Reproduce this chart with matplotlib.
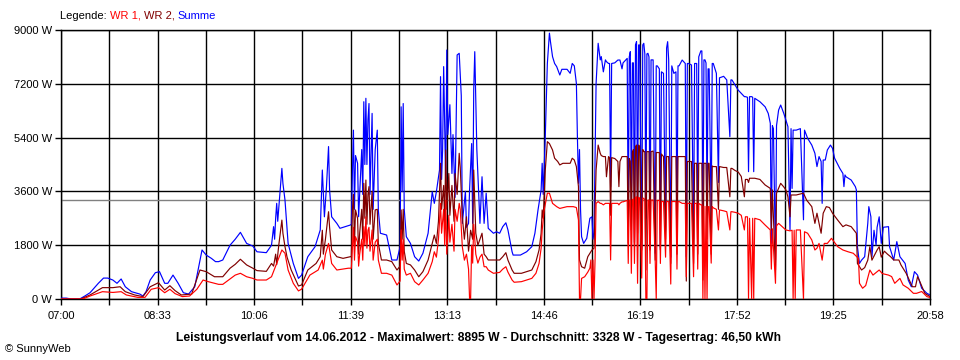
import matplotlib
matplotlib.use("Agg")
import matplotlib.pyplot as plt

# ---------------- data (minutes after 07:00, watts) ----------------
summe_t = [0, 5, 10, 18, 23, 28, 36, 41, 45, 50, 54, 58, 62, 68, 76, 79, 82, 86, 91, 95,
           100, 103, 108, 113, 118, 123, 129, 136, 140, 145, 149, 152, 156, 163, 168, 173, 179,
           185, 189, 198, 203, 205, 206, 207, 208, 209, 211, 213, 214, 216, 219, 224, 229, 232,
           238, 245, 250, 252, 254, 256, 258, 259, 261, 266, 269, 274, 279, 280, 281, 282, 283,
           284, 286, 287, 288, 290, 291, 292, 293, 294, 295, 296, 297, 298, 300, 301, 303, 305,
           306, 308, 314, 319, 324, 327, 328, 329, 330, 331, 333, 337, 341, 345, 349, 354, 358,
           360, 362, 365, 366, 367, 368, 369, 371, 372, 373, 375, 377, 378, 380, 382, 384, 386,
           387, 390, 391, 393, 394, 396, 397, 398, 399, 401, 404, 406, 408, 410, 412, 417, 420,
           423, 426, 429, 431, 435, 436, 443, 449, 454, 457, 460, 463, 464, 465, 467, 469, 471,
           472, 474, 476, 478, 481, 483, 488, 491, 493, 495, 497, 498, 499, 500, 501, 502, 504,
           507, 510, 512, 513, 514,
           516, 518, 520, 521, 523, 525, 526, 528, 529, 530, 531, 534, 537, 538, 539, 541, 542,
           546, 547, 548, 549, 550, 551, 552, 553, 554, 555, 556, 557, 558, 560, 561, 562, 563,
           564, 565, 566, 567, 568, 569, 571, 573, 574, 575, 577, 578, 579, 581, 583, 584, 585,
           586, 588, 589, 591, 593, 594, 595, 596, 599, 602, 603, 604, 605, 608, 610, 611, 613,
           614, 615, 617, 618, 619, 620, 621, 622, 623, 624, 625, 627, 628, 629, 632, 634, 635,
           639, 642, 645, 646, 647, 650, 653, 656, 659, 660, 662, 663, 664, 666, 667, 668, 669,
           674, 679, 682, 684, 685, 686, 687, 689, 690, 692, 694, 697, 699, 701, 703, 704, 705,
           706, 709, 713, 716, 717, 720, 724, 727, 729, 731, 733, 734, 735, 737, 739, 742, 744,
           746, 751, 754, 755, 756, 757, 762, 766, 767, 768, 770, 772, 775, 778, 779, 781, 782,
           784, 786, 787, 789, 791, 793, 798, 799, 803, 806, 809, 814, 817, 820, 823, 826, 830,
           835, 838]
summe_w = [30, 30, 0, 0, 100, 210, 525, 700, 700, 635, 525, 670, 410, 245, 165, 100, 245, 635, 880, 915,
           525, 525, 800, 525, 210, 165, 410, 1640, 1470, 1360, 1250, 1250, 1305, 1800, 2000, 2230, 1860,
           1770, 1580, 1550, 1800, 2420, 2000, 2700, 3200, 2600, 3500, 4370, 3870, 3310, 1860, 1190, 690, 800,
           1415, 1750, 2310, 4315, 2750, 3760, 5100, 3650, 2750, 2530, 2365, 2420, 2475, 2500, 4200, 5650, 3000,
           4800, 4540, 2750, 3500, 5000, 3500, 6600, 4500, 6715, 4500, 6000, 6540, 3500, 6210, 3000, 5000, 5650,
           2980, 2200, 2140, 1305, 1305, 1750, 6430, 3590, 6540, 3000, 2085, 1860, 1415, 1270, 1530, 2200, 3590,
           3200, 3590, 4315, 7440, 4000, 5000, 7775, 3800, 8330, 5500, 6500, 4200, 5500, 3400, 8165, 8220, 6800,
           2530, 3600, 2400, 2530, 3650, 5200, 2530, 7000, 8275, 5000, 2530, 4090, 2530, 3540, 2365, 2200, 2250,
           2200, 2420, 2550, 2310, 1580, 1470, 1470, 1580, 1750, 2200, 2980, 3650, 4540, 3500, 5430, 7880, 8895,
           8610, 8110, 7880, 7775, 7495, 7685, 7685, 7550, 7880, 7800, 7210, 5400, 3870, 5000, 3000, 2085, 1860,
           2030, 2700, 2750, 2000, 2200,
           7210, 8555, 8000, 8110, 7600, 8000, 7940, 7880, 7880, 3760, 7880, 7900, 7995, 7995, 7995, 7700, 7900,
           8050, 2310, 8100, 8275, 3000, 7900, 7900, 1900, 8500, 8610, 2700, 8500, 8500, 1700, 8500, 8555, 8200,
           2700, 8200, 8220, 8100, 1700, 8000, 8000, 1530, 7800, 7800, 7700, 1700, 7600, 7550, 2300, 8400, 8610,
           8000, 1400, 7800, 7550, 7600, 2300, 7800, 7800, 7995, 7880, 1415, 7880, 7880, 7830, 2000, 7880, 7880,
           2700, 8100, 8300, 8300, 2000, 8000, 8000, 7900, 3000, 7700, 7700, 2700, 7880, 7880, 7550, 3900, 7400,
           7450, 7330, 5430, 7330, 7330, 7160, 6990, 6880, 6770, 6770, 6750, 4260, 6770, 6770, 6750, 4260, 6715,
           6600, 6430, 6210, 5880, 1860, 5800, 5700, 1305, 5800, 6320, 6490, 6210, 5990, 5765, 2310, 5700, 3700,
           5650, 5650, 5700, 2650, 5650, 5375, 5150, 4875, 4430, 4765, 4600, 3200, 4650, 4650, 4985, 5150, 5040,
           4710, 4370, 4200, 3760, 4150, 4090, 3980, 3760, 3650, 1750, 1190, 1300, 1415, 2530, 3090, 2750, 1415,
           2300, 1800, 2400, 2750, 1860, 2400, 2420, 1750, 1305, 1920, 1415, 1190, 635, 410, 915, 800, 360,
           190, 135]

wr2_t = [0, 19, 28, 40, 50, 57, 62, 71, 79, 86, 94, 100, 105, 110, 116, 126, 134, 140, 148, 156,
         163, 168, 173, 179, 185, 189, 198, 203, 205, 207, 208, 210, 211, 213, 214, 216, 218, 222,
         229, 232, 238, 246, 250, 252, 253, 255, 258, 259, 261, 266, 272, 279, 280, 281, 282, 283,
         284, 286, 287, 288, 290, 291, 292, 293, 294, 295, 296, 297, 298, 300, 301, 303, 305, 306,
         309, 314, 319, 324, 327, 328, 329, 330, 331, 333, 337, 341, 345, 349, 354, 358, 360, 362,
         364, 366, 367, 369, 370, 371, 372, 374, 375, 377, 379, 380, 382, 384, 385, 387, 389, 391,
         393, 395, 397, 398, 400, 402, 404, 406, 408, 410, 412, 417, 423, 426, 429, 431, 435, 437,
         444, 454, 458, 461, 463, 464, 465, 467, 469, 471, 474, 476, 479, 481, 484, 491, 493, 495,
         497, 499, 500, 502, 505, 508, 512, 514,
         516, 518, 520, 521, 523, 525, 526, 528, 529, 530, 531, 534, 537, 538, 539, 541, 542,
         546, 547, 548, 549, 550, 551, 552, 553, 554, 555, 556, 557, 558, 560, 561, 562, 563,
         564, 565, 566, 567, 568, 569, 571, 573, 574, 575, 577, 578, 579, 581, 583, 584, 585,
         586, 588, 589, 591, 593, 594, 595, 596, 599, 602, 603, 604, 605, 608, 610, 611, 613,
         614, 615, 617, 618, 619, 620, 621, 622, 623, 624, 625, 627, 628, 629, 632, 634, 635,
         639, 642, 645, 646, 647, 650, 653, 656, 659, 660, 662, 663, 664, 666, 667, 668, 669,
         674, 679, 684, 685, 686, 689, 690, 694, 697, 699, 701, 703, 704, 709, 716, 719, 724,
         727, 729, 731, 733, 735, 738, 741, 744, 749, 754, 757, 762, 767, 768, 772, 775, 778,
         780, 782, 785, 787, 789, 791, 794, 797, 800, 803, 808, 810, 815, 818, 821, 824, 826,
         828, 833, 838]
wr2_w = [0, 0, 135, 380, 380, 410, 245, 135, 80, 410, 545, 300, 445, 280, 135, 165, 970, 915, 745, 745,
         1030, 1160, 1330, 1140, 1030, 950, 925, 1190, 1100, 1500, 1150, 1800, 2085, 2640, 2200, 1750, 1400, 970,
         435, 470, 970, 1190, 1415, 2300, 1500, 2000, 2920, 2400, 1640, 1415, 1360, 1415, 1415, 2980, 3500, 1800,
         2980, 2700, 1500, 2200, 3000, 2000, 3870, 2700, 3980, 2500, 3500, 3760, 2500, 3600, 2000, 2980, 3000, 1860,
         1305, 1305, 1250, 970, 1100, 2980, 2000, 3000, 1600, 1190, 1140, 970, 745, 915, 1305, 1860, 2140, 1860,
         2600, 4540, 3000, 3800, 2500, 4985, 3000, 4200, 2800, 3800, 2600, 4200, 3500, 4875, 4400, 2750, 2000, 2750,
         1600, 2300, 2000, 4315, 2200, 1800, 2000, 2200, 1500, 1415, 1305, 1305, 1305, 1415, 1550, 1300, 970, 860,
         860, 970, 1250, 1640, 2200, 2980, 2700, 4315, 5265, 5200, 4985, 4710, 4600, 4485, 4540, 4540, 4710, 4650,
         4430, 3760, 1305, 1080, 1030, 1415, 1640, 1700,
         4315, 5150, 4875, 4800, 4765, 4765, 4090, 4765, 4730, 2800, 4730, 4700, 4600, 3760, 4600, 4765, 4765,
         4765, 1860, 4700, 4600, 2300, 4900, 5000, 1860, 5100, 5150, 2200, 5150, 5100, 1640, 5000, 4930, 4930,
         970, 4930, 4930, 4930, 1640, 4930, 4950, 1300, 4900, 4900, 4900, 1640, 4850, 4765, 2000, 4765, 4765,
         4765, 1190, 4765, 4765, 4765, 1500, 4765, 4765, 4765, 4765, 600, 4600, 4600, 4600, 1190, 4540, 4540,
         1500, 4540, 4540, 4540, 635, 4540, 4540, 4540, 2000, 4540, 4540, 1500, 4450, 4430, 4430, 3000, 4430,
         4400, 4400, 3420, 4370, 4370, 4300, 4250, 4100, 3420, 4000, 4000, 3900, 4040, 4040, 4040, 4040, 4040,
         4000, 3815, 3700, 2310, 3650, 970, 3540, 3870, 3750, 3650, 3420, 2750, 3480, 3480, 3540, 3310, 3090,
         2530, 2870, 2530, 2200, 2870, 3090, 3060, 2870, 2640, 2420, 2480, 2420, 2200, 1190, 970, 1050, 1300,
         1750, 1300, 1500, 1640, 1750, 1400, 1600, 1500, 1415, 1305, 1305, 1140, 860, 635, 410, 410, 745,
         600, 190, 80]

wr1_t = [0, 21, 28, 40, 50, 58, 63, 74, 81, 87, 94, 100, 105, 110, 117, 124, 131, 137, 142, 152,
         156, 168, 173, 179, 185, 189, 198, 203, 208, 213, 216, 219, 224, 229, 232, 240, 248, 252,
         253, 255, 258, 261, 266, 277, 280, 281, 282, 283, 284, 286, 287, 288, 290, 291, 292, 293,
         294, 295, 296, 297, 298, 300, 301, 303, 305, 306, 309, 314, 319, 324, 327, 328, 329, 330,
         331, 333, 337, 341, 345, 349, 354, 358, 360, 362, 364, 366, 367, 369, 370, 371, 372, 374,
         375, 377, 379, 380, 382, 384, 385, 387, 389, 391, 393, 394, 395, 396, 397, 398, 400, 402,
         404, 406, 408, 410, 412, 417, 423, 426, 429, 431, 435, 437, 444, 454, 458, 461, 463, 464,
         466, 469, 471, 474, 478, 481, 488, 494, 497, 499, 500, 501, 502, 505, 508, 510, 511, 512,
         513, 514, 515,
         516, 518, 520, 521, 523, 525, 526, 528, 529, 530, 531, 534, 537, 538, 539, 541, 542,
         546, 547, 548, 549, 550, 551, 552, 553, 554, 555, 556, 557, 558, 560, 561, 562, 563,
         564, 565, 566, 567, 568, 569, 571, 573, 574, 575, 577, 578, 579, 581, 583, 584, 585,
         586, 588, 589, 591, 593, 594, 595, 596, 599, 602, 603, 604, 605, 608, 610, 611, 613,
         614, 615, 617, 618, 619, 620, 621, 622, 623, 624, 625, 627, 628, 629, 632, 634, 635,
         639, 642, 645, 646, 647, 650, 653, 656, 659, 660, 662, 663, 664, 666, 667, 668, 669,
         674, 679, 684, 685, 686, 689, 690, 692, 699, 703, 705, 706, 707, 708, 709, 713, 716,
         717, 720, 724, 727, 729, 731, 734, 736, 739, 743, 749, 754, 759, 764, 769, 770, 773,
         776, 780, 783, 789, 792, 798, 801, 804, 809, 812, 817, 822, 825, 830, 835, 838]
wr1_w = [0, 0, 100, 245, 220, 245, 135, 55, 55, 325, 380, 210, 325, 180, 80, 100, 325, 635, 580, 490,
         490, 800, 860, 745, 690, 635, 635, 745, 1190, 1640, 1530, 970, 525, 270, 330, 800, 970, 1300,
         1000, 1500, 1860, 1190, 970, 1030, 1030, 1750, 2400, 1300, 2085, 1900, 1100, 1500, 2000, 1300, 2420, 1800,
         2750, 1700, 2300, 2400, 1600, 2310, 1300, 1900, 2000, 1305, 860, 860, 800, 470, 600, 2310, 1300, 2000,
         1000, 800, 860, 580, 470, 635, 860, 1250, 1580, 1400, 2000, 3200, 2200, 3000, 1800, 3300, 1500, 2800,
         1900, 2500, 1600, 3000, 2600, 3200, 3000, 1750, 1300, 1500, 1000, 0, 0, 1800, 1200, 2500, 1500, 1200,
         1400, 1500, 1080, 1080, 970, 860, 890, 1000, 1080, 900, 635, 560, 580, 690, 860, 1190, 1700, 2300,
         2980, 3540, 3540, 3200, 3090, 3030, 3090, 3090, 3060, 2640, 0, 0, 690, 745, 900, 1030, 1305, 0,
         1305, 0, 1305,
         3200, 3260, 3200, 3200, 3150, 3200, 3200, 3200, 3200, 1305, 3200, 3200, 3200, 3150, 3200, 3250, 3250,
         3300, 1190, 3300, 3310, 860, 3300, 3350, 1190, 3400, 3420, 525, 3400, 3370, 700, 3370, 3370, 3310,
         0, 0, 3310, 3310, 1190, 3310, 3310, 1300, 0, 3300, 3300, 1190, 3260, 3260, 1400, 3260, 3260,
         3260, 500, 3260, 3260, 3260, 1000, 3260, 3260, 3200, 3200, 745, 3200, 3200, 3200, 745, 3200, 3200,
         1000, 3200, 3150, 3150, 0, 3100, 0, 3100, 0, 3090, 3090, 1200, 3090, 3050, 3000, 2310, 2980,
         2950, 2920, 2310, 2920, 2920, 2900, 2870, 2800, 2310, 2750, 2750, 0, 2700, 0, 2700, 0, 2700,
         2650, 2475, 2310, 1000, 2350, 525, 2450, 2530, 2310, 2280, 2300, 0, 2300, 0, 2310, 2310, 0,
         2250, 2200, 1975, 1640, 1700, 1860, 1300, 1860, 1860, 2030, 1750, 1640, 1580, 1530, 1360, 525, 360,
         450, 970, 800, 970, 850, 800, 750, 525, 690, 470, 360, 190, 190, 250, 80, 50]

average_w = 3328
y_ticks = [0, 1800, 3600, 5400, 7200, 9000]
y_labels = ["0 W", "1800 W", "3600 W", "5400 W", "7200 W", "9000 W"]
x_labels = ["07:00", "08:33", "10:06", "11:39", "13:13", "14:46", "16:19", "17:52", "19:25", "20:58"]
total_minutes = 838
title = ("Leistungsverlauf vom 14.06.2012 - Maximalwert: 8895 W - Durchschnitt: 3328 W - "
         "Tagesertrag: 46,50 kWh")

# ---------------- figure ----------------
plt.rcParams['font.family'] = ['Liberation Sans', 'DejaVu Sans']
W, H = 960, 360
fig = plt.figure(figsize=(W / 100, H / 100), dpi=100)
fig.patch.set_facecolor('white')
L, R, T, B = 61, 930, 30, 299
ax = fig.add_axes([L / W, 1 - B / H, (R - L) / W, (B - T) / H])

ax.plot(summe_t, summe_w, color='#0000FF', lw=0.85, zorder=3)
ax.plot(wr2_t, wr2_w, color='#800000', lw=0.85, zorder=4)
ax.plot(wr1_t, wr1_w, color='#FF0000', lw=0.85, zorder=5)
ax.axhline(average_w, color='#808080', lw=1.0, zorder=2)

ax.set_xlim(0, total_minutes)
ax.set_ylim(0, 9000)
n_div = 18
xt = [i * total_minutes / n_div for i in range(n_div + 1)]
ax.set_xticks(xt)
ax.set_xticklabels([x_labels[i // 2] if i % 2 == 0 else "" for i in range(n_div + 1)])
ax.set_yticks(y_ticks)
ax.set_yticklabels(y_labels)
ax.grid(True, color='black', lw=1.0, zorder=1)
ax.set_axisbelow(True)
for s in ax.spines.values():
    s.set_color('black')
    s.set_linewidth(1.0)
ax.tick_params(axis='both', length=4.5, width=1.0, color='black', labelsize=8, pad=2)
ax.tick_params(axis='x', pad=4)

# bottom title and footer
fig.text(479 / W, 1 - 338 / H, title, ha='center', va='center', fontsize=8.7, fontweight='bold')
fig.text(5 / W, 1 - 349 / H, "\u00a9 SunnyWeb", ha='left', va='center', fontsize=8)

# multi-colored legend text
fig.canvas.draw()
renderer = fig.canvas.get_renderer()
x_px = 60
for txt, col in [("Legende: ", "black"), ("WR 1, ", "#FF0000"), ("WR 2, ", "#800000"), ("Summe", "#0000FF")]:
    t = fig.text(x_px / W, 1 - 16 / H, txt, ha='left', va='center', fontsize=8, color=col)
    bb = t.get_window_extent(renderer=renderer)
    x_px += bb.width

fig.savefig("out.png", dpi=100, facecolor='white')
